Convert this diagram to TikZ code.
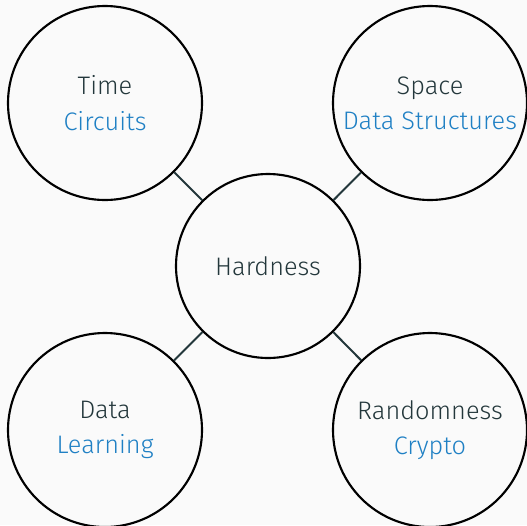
\documentclass[tikz,border=0pt]{standalone}
\usepackage{fontspec}
\setmainfont{Fira Sans Light}
\definecolor{bgcol}{HTML}{FAFAFA}
\definecolor{tealdark}{HTML}{23373B}
\definecolor{topicblue}{HTML}{1F80C4}
\begin{document}
\begin{tikzpicture}[x=0.75pt,y=-0.75pt,
  bubble/.style={circle,draw=black,line width=1.6pt,minimum size=#1,inner sep=0pt,
    text=tealdark,font=\fontsize{19}{26.5}\selectfont,align=center},
  link/.style={draw=tealdark,line width=1.5pt}]
  \fill[bgcol] (0,0) rectangle (527,525);
  \useasboundingbox (0,0) rectangle (527,525);
  \node[bubble=138pt] (hub) at (268,266) {Hardness};
  \node[bubble=145.5pt] (tl) at (105,103) {Time\\\textcolor{topicblue}{Circuits}};
  \node[bubble=145.5pt] (tr) at (430,103) {Space\\\textcolor{topicblue}{Data Structures}};
  \node[bubble=145.5pt] (bl) at (105,430) {Data\\\textcolor{topicblue}{Learning}};
  \node[bubble=145.5pt] (br) at (430,430) {Randomness\\\textcolor{topicblue}{Crypto}};
  \foreach \c in {tl,tr,bl,br}
    \path[link] (hub) -- (\c);
\end{tikzpicture}
\end{document}
